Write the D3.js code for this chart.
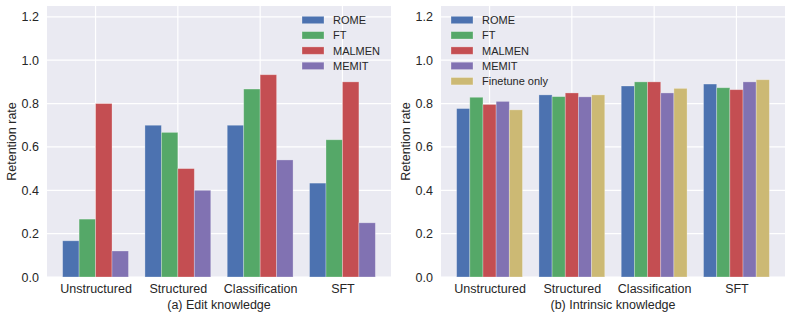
<!DOCTYPE html>
<html>
<head>
<meta charset="utf-8">
<script src="https://cdn.jsdelivr.net/npm/d3@7"></script>
<style>
  body { margin: 0; background: #fff; }
  svg text { font-family: "Liberation Sans", Arial, sans-serif; fill: #262626; }
</style>
</head>
<body>
<svg id="chart" width="792" height="317"></svg>
<script>
// categories and tick labels
const categories = ["Unstructured", "Structured", "Classification", "SFT"];
const yTicks = [0, 0.2, 0.4, 0.6, 0.8, 1.0, 1.2];

// (a) Edit knowledge
const editMethods = ["ROME", "FT", "MALMEN", "MEMIT"];
const editRome   = [0.167, 0.700, 0.700, 0.433];
const editFt     = [0.267, 0.667, 0.867, 0.633];
const editMalmen = [0.800, 0.500, 0.933, 0.900];
const editMemit  = [0.120, 0.400, 0.540, 0.250];

// (b) Intrinsic knowledge
const intrMethods = ["ROME", "FT", "MALMEN", "MEMIT", "Finetune only"];
const intrRome     = [0.777, 0.840, 0.881, 0.890];
const intrFt       = [0.829, 0.832, 0.900, 0.873];
const intrMalmen   = [0.796, 0.849, 0.900, 0.864];
const intrMemit    = [0.810, 0.831, 0.849, 0.900];
const intrFinetune = [0.771, 0.840, 0.870, 0.910];

const colors = ["#4C72B0", "#55A868", "#C44E52", "#8172B2", "#CCB974"];

const svg = d3.select("#chart");

function drawPanel(opt) {
    const { left, right, top, bottom, methods, series, xlabel, legendX } = opt;
    const g = svg.append("g");

    // matplotlib-like x range: groups are 0.8 wide, 5% margin
    const lo = -0.4, hi = categories.length - 1 + 0.4;
    const pad = (hi - lo) * 0.05;
    const x = d3.scaleLinear().domain([lo - pad, hi + pad]).range([left, right]);
    const y = d3.scaleLinear().domain([0, 1.25]).range([bottom, top]);

    g.append("rect")
        .attr("x", left).attr("y", top)
        .attr("width", right - left).attr("height", bottom - top)
        .attr("fill", "#EAEAF2");

    // grid
    g.selectAll(".hgrid").data(yTicks).join("line")
        .attr("x1", left).attr("x2", right)
        .attr("y1", d => y(d)).attr("y2", d => y(d))
        .attr("stroke", "#fff").attr("stroke-width", 1.2);
    g.selectAll(".vgrid").data(categories).join("line")
        .attr("x1", (d, i) => x(i)).attr("x2", (d, i) => x(i))
        .attr("y1", top).attr("y2", bottom)
        .attr("stroke", "#fff").attr("stroke-width", 1.2);

    // bars
    const bw = 0.8 / methods.length;
    methods.forEach((m, k) => {
        g.selectAll(".bar" + k).data(series[k]).join("rect")
            .attr("x", (d, i) => x(i - 0.4 + k * bw))
            .attr("width", x(bw) - x(0))
            .attr("y", d => y(d))
            .attr("height", d => y(0) - y(d))
            .attr("fill", colors[k])
            .attr("stroke", "#fff").attr("stroke-opacity", 0.35).attr("stroke-width", 0.8);
    });

    // axes
    const yAxis = g.append("g")
        .attr("transform", `translate(${left},0)`)
        .call(d3.axisLeft(y).tickValues(yTicks).tickFormat(d3.format(".1f")).tickSize(0).tickPadding(8));
    const xAxis = g.append("g")
        .attr("transform", `translate(0,${bottom})`)
        .call(d3.axisBottom(x).tickValues(d3.range(categories.length))
            .tickFormat(i => categories[i]).tickSize(0).tickPadding(7));
    [yAxis, xAxis].forEach(a => {
        a.select(".domain").remove();
        a.selectAll("text").attr("font-size", 12.5).attr("fill", "#262626");
    });

    g.append("text")
        .attr("transform", `translate(${left - 31},${(top + bottom) / 2}) rotate(-90)`)
        .attr("text-anchor", "middle")
        .attr("font-size", 12.5)
        .text("Retention rate");

    g.append("text")
        .attr("x", (left + right) / 2).attr("y", 309)
        .attr("text-anchor", "middle")
        .attr("font-size", 12.5)
        .text(xlabel);

    // legend
    const leg = g.append("g").attr("transform", `translate(${legendX},20)`);
    methods.forEach((m, k) => {
        leg.append("rect")
            .attr("x", 0).attr("y", k * 15.3 - 3.7)
            .attr("width", 22).attr("height", 7.4)
            .attr("fill", colors[k])
            .attr("stroke", "#fff").attr("stroke-opacity", 0.35).attr("stroke-width", 0.8);
        leg.append("text")
            .attr("x", 31).attr("y", k * 15.3 + 4)
            .attr("font-size", 11)
            .text(m);
    });
}

drawPanel({
    left: 47, right: 391, top: 6, bottom: 277,
    methods: editMethods,
    series: [editRome, editFt, editMalmen, editMemit],
    xlabel: "(a) Edit knowledge",
    legendX: 302
});

drawPanel({
    left: 441, right: 785, top: 6, bottom: 277,
    methods: intrMethods,
    series: [intrRome, intrFt, intrMalmen, intrMemit, intrFinetune],
    xlabel: "(b) Intrinsic knowledge",
    legendX: 451
});
</script>
</body>
</html>
